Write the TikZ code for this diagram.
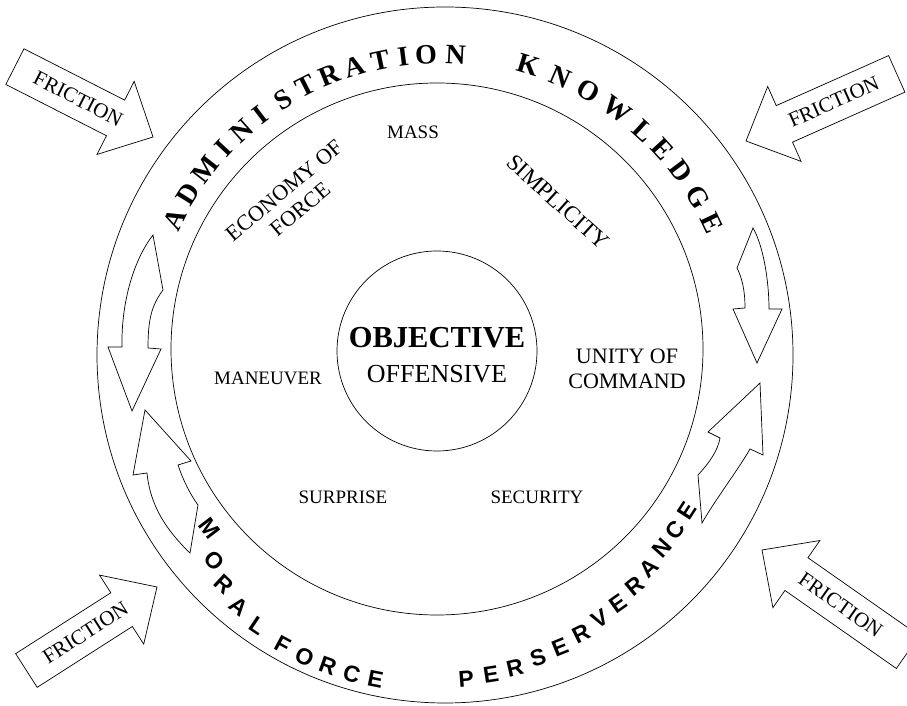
\documentclass[tikz,border=0pt]{standalone}
\usepackage{fontspec}
\setmainfont{Liberation Serif}
\newfontfamily\arialfont{Liberation Sans}
\newcommand{\FricArrow}[7]{%
  \begin{scope}[shift={(#1,#2)}, rotate=#3]
    \draw[fricarrow] (0,0) -- (-42,41) -- (-42,20) -- (-#4,20) -- (-#4,-20) -- (-42,-20) -- (-42,-41) -- cycle;
    \node[frictext, rotate=#6] (#7) at (-#5,0) {FRICTION};
  \end{scope}}
\begin{document}
\begin{tikzpicture}[x=1pt,y=1pt,
  line width=0.7pt,
  lbl/.style={font=\fontsize{19}{23}\selectfont, inner sep=0pt, align=center},
  biglbl/.style={font=\fontsize{22}{25}\selectfont, inner sep=0pt, align=center},
  fricarrow/.style={draw, fill=white, line width=0.7pt, line join=miter},
  frictext/.style={font=\fontsize{21}{24}\selectfont, inner sep=0pt},
  ringtop/.style={font=\fontsize{28}{28}\selectfont\bfseries, inner sep=0pt},
  ringbot/.style={font=\arialfont\bfseries\fontsize{23}{23}\selectfont, inner sep=0pt},
  curvarrow/.style={draw, fill=white, line width=0.7pt, line join=miter}]
\useasboundingbox (0,0) rectangle (907,706);
\clip (0,0) rectangle (907,706);
\fill[white] (0,0) rectangle (907,706);
\begin{scope}[shift={(0,706)}, yscale=-1]
  % circles
  \draw (445,355) circle (348);
  \draw (437,349) circle (266);
  \draw (437,351) circle (100);
  % friction arrows
  \FricArrow{153}{137}{27}{155}{84}{-27}{f1}
  \FricArrow{746}{141}{156}{165}{96}{24}{f2}
  \FricArrow{157}{587}{-32.6}{155}{85}{32.6}{f3}
  \FricArrow{762}{550}{215}{178}{96}{-35}{f4}
  % curved arrows in ring
  \draw[curvarrow] (153,235) -- (163,290) .. controls (152,305) and (148,318) .. (148,348)
     -- (161,349) -- (132,411) -- (108,347) -- (122,347)
     .. controls (121,300) and (135,258) .. (153,235) -- cycle;
  \draw[curvarrow] (145,410) -- (191,461) -- (178,465) .. controls (183,480) and (190,494) .. (198,505)
     -- (190,553) .. controls (166,530) and (150,505) .. (147,473) -- (133,475) -- cycle;
  \draw[curvarrow] (753,228) -- (737,268) .. controls (742,278) and (745,290) .. (745,308)
     -- (733,309) -- (757,363) -- (782,309) -- (769,309)
     .. controls (769,280) and (763,245) .. (753,228) -- cycle;
  \draw[curvarrow] (760,383) -- (763,455) -- (750,449) .. controls (738,470) and (715,500) .. (702,523)
     -- (698,475) .. controls (710,462) and (718,450) .. (720,438) -- (708,432) -- cycle;
  % labels
  \node[lbl] (mass) at (413,132) {MASS};
  \node[biglbl, rotate=40] (econ) at (292,200) {ECONOMY OF\\FORCE};
  \node[biglbl, font=\fontsize{23}{25}\selectfont, rotate=-42] (simp) at (558,202) {SIMPLICITY};
  \node[inner sep=0pt, font=\fontsize{30.5}{32}\selectfont\bfseries] (obj) at (437,338) {OBJECTIVE};
  \node[inner sep=0pt, font=\fontsize{26}{28}\selectfont] (off) at (437,374) {OFFENSIVE};
  \node[lbl] (man) at (268,378) {MANEUVER};
  \node[biglbl] (unity) at (627,369) {UNITY OF\\COMMAND};
  \node[lbl] (surp) at (343,497) {SURPRISE};
  \node[lbl] (sec) at (537,497) {SECURITY};
\end{scope}
\begin{scope}[shift={(441,354)}]
  \foreach \ch/\a [count=\i] in {A/153.5,D/148,M/142.3,I/137,N/132,I/127.3,S/122,T/117,R/112,A/106.8,T/101.8,I/97.3,O/92.9,N/87.2}
    \node[ringtop, rotate=\a-90] (adm\i) at (\a:298) {\ch};
  \foreach \ch/\a [count=\i] in {K/73,N/66.5,O/60.5,W/54,L/47.5,E/42.5,D/37,G/31,E/25.5}
    \node[ringtop, rotate=\a-90] (kno\i) at (\a:300) {\ch};
  \foreach \ch/\a/\r [count=\i] in {M/217.2/291,O/222.6/308,R/227/318,A/231.6/325,L/236.2/330,F/241.6/333,O/245.9/334,R/250.2/334,C/254.5/334,E/258.7/334}
    \node[ringbot, rotate=\a+90] (mor\i) at (\a:\r) {\ch};
  \foreach \ch/\a/\r [count=\i] in {P/274.4/328,E/278.8/326,R/283.2/324,S/287.6/321,E/292/318,R/296.4/315,V/300.8/311,E/305.2/308,R/309.6/304,A/314/300,N/318.4/296,C/322.8/294,E/327.2/293}
    \node[ringbot, rotate=\a+90] (per\i) at (\a:\r) {\ch};
\end{scope}
\end{tikzpicture}
\end{document}
